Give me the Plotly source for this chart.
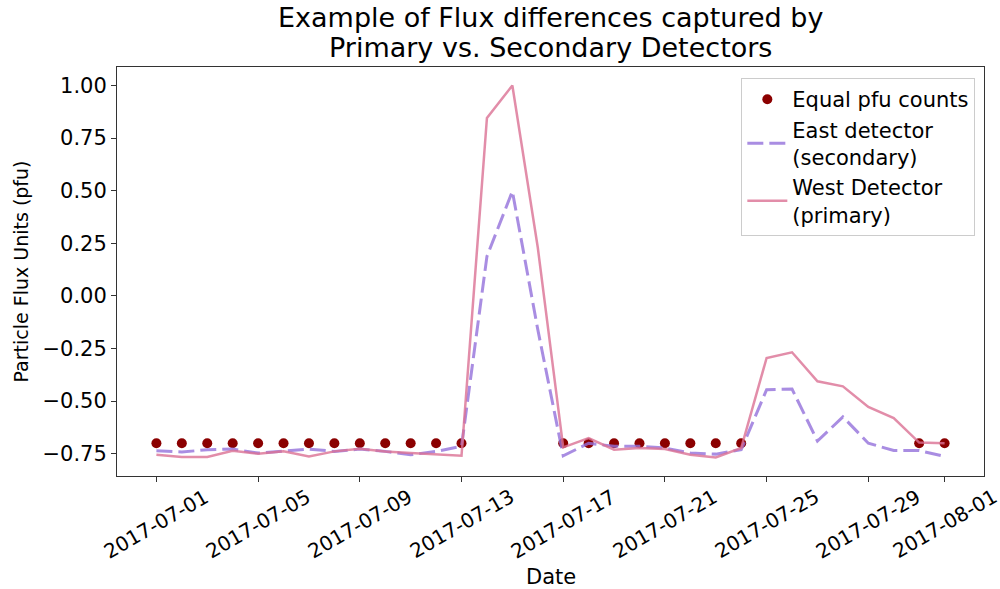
import pandas as pd
import plotly.graph_objects as go

dates = pd.date_range("2017-07-01", "2017-08-01", freq="D")

west = [-0.755, -0.766, -0.766, -0.736, -0.750, -0.739, -0.763, -0.739, -0.726, -0.739,
        -0.747, -0.755, -0.760, 0.846, 1.000, 0.230, -0.720, -0.676, -0.731, -0.723,
        -0.728, -0.755, -0.768, -0.723, -0.295, -0.268, -0.406, -0.430, -0.528, -0.581,
        -0.697, -0.700]
east = [-0.736, -0.742, -0.731, -0.728, -0.747, -0.737, -0.728, -0.739, -0.728, -0.739,
        -0.755, -0.739, -0.715, 0.188, 0.497, -0.160, -0.760, -0.700, -0.715, -0.715,
        -0.723, -0.747, -0.752, -0.731, -0.446, -0.443, -0.690, -0.575, -0.700, -0.735,
        -0.735, -0.763]

equal_dates = ["2017-07-01", "2017-07-02", "2017-07-03", "2017-07-04", "2017-07-05",
               "2017-07-06", "2017-07-07", "2017-07-08", "2017-07-09", "2017-07-10",
               "2017-07-11", "2017-07-12", "2017-07-13", "2017-07-17", "2017-07-18",
               "2017-07-19", "2017-07-20", "2017-07-21", "2017-07-22", "2017-07-23",
               "2017-07-24", "2017-07-31", "2017-08-01"]
equal_values = [-0.70] * len(equal_dates)

x_ticks = ["2017-07-01", "2017-07-05", "2017-07-09", "2017-07-13", "2017-07-17",
           "2017-07-21", "2017-07-25", "2017-07-29", "2017-08-01"]
y_ticks = [-0.75, -0.50, -0.25, 0.00, 0.25, 0.50, 0.75, 1.00]

title_lines = ["Example of Flux differences captured by",
               "Primary vs. Secondary Detectors"]

FONT = "DejaVu Sans"

fig = go.Figure()
fig.add_trace(go.Scatter(
    x=pd.to_datetime(equal_dates), y=equal_values, mode="markers",
    name="Equal pfu counts",
    marker=dict(color="#8B0000", size=10),
))
fig.add_trace(go.Scatter(
    x=dates, y=east, mode="lines",
    name="East detector<br>(secondary)",
    line=dict(color="rgba(147,112,219,0.8)", width=3, dash="16px,6px"),
))
fig.add_trace(go.Scatter(
    x=dates, y=west, mode="lines",
    name="West Detector<br>(primary)",
    line=dict(color="rgba(219,112,147,0.8)", width=2.5),
))

start = pd.Timestamp("2017-07-01")
end = pd.Timestamp("2017-08-01")
pad = (end - start) * 0.05

annotations = []
for t in x_ticks:
    annotations.append(dict(
        x=t, y=-0.1175, xref="x", yref="paper", text=t, showarrow=False,
        textangle=-30, xanchor="center", yanchor="middle",
        font=dict(family=FONT, size=20, color="black"),
    ))
annotations.append(dict(
    x=0.5, y=-0.247, xref="paper", yref="paper", text="Date", showarrow=False,
    xanchor="center", yanchor="middle",
    font=dict(family=FONT, size=21, color="black"),
))
for i, line in enumerate(title_lines):
    annotations.append(dict(
        x=0.5, y=1, xref="paper", yref="paper", text=line, showarrow=False,
        xanchor="center", yanchor="bottom",
        yshift=2 + 30 * (len(title_lines) - 1 - i),
        font=dict(family=FONT, size=27, color="black"),
    ))

fig.update_layout(
    width=1000, height=589,
    margin=dict(l=117, r=16, t=67, b=113),
    paper_bgcolor="white", plot_bgcolor="white",
    font=dict(family=FONT, color="black"),
    xaxis=dict(
        type="date", range=[start - pad, end + pad],
        tickvals=pd.to_datetime(x_ticks), showticklabels=False,
        ticks="outside", ticklen=5, tickcolor="#333",
        showline=True, linecolor="#333", linewidth=1, mirror=True,
        showgrid=False, zeroline=False,
    ),
    yaxis=dict(
        range=[-0.856, 1.088],
        tickvals=y_ticks, tickformat=".2f",
        ticks="outside", ticklen=5, tickcolor="#333",
        tickfont=dict(family=FONT, size=21, color="black"),
        showline=True, linecolor="#333", linewidth=1, mirror=True,
        showgrid=False, zeroline=False,
        title=dict(text="Particle Flux Units (pfu)", standoff=8,
                   font=dict(family=FONT, size=19, color="black")),
    ),
    legend=dict(
        x=0.99, xanchor="right", y=0.973, yanchor="top",
        bgcolor="rgba(255,255,255,0.8)", bordercolor="#cccccc", borderwidth=1,
        font=dict(family=FONT, size=21, color="black"),
        itemwidth=40,
    ),
    annotations=annotations,
    showlegend=True,
)

fig.write_html("out.html")
